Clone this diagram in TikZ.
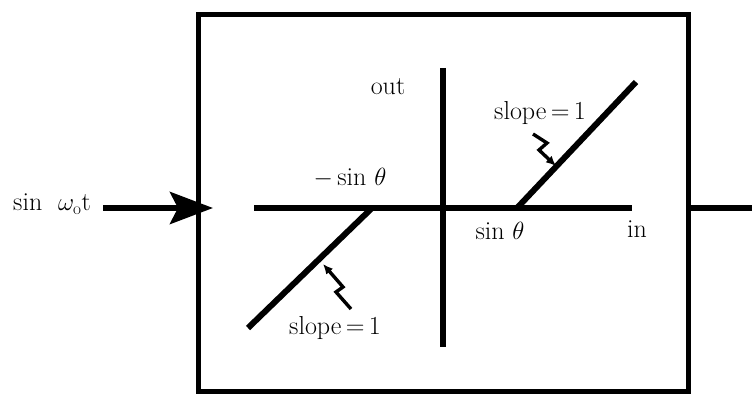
\documentclass[tikz,border=0pt]{standalone}
\usetikzlibrary{arrows.meta}
\begin{document}
\begin{tikzpicture}[x=1pt,y=-1pt,
  lbl/.style={inner sep=0pt, font=\fontsize{26}{30}\selectfont},
  thick line/.style={line width=6pt},
  zig/.style={line width=3.4pt, line join=miter, -{Latex[length=10pt,width=9pt]}}]
\useasboundingbox (0,0) rectangle (752,396);
% box
\node[draw, line width=5pt, minimum width=490pt, minimum height=376pt, inner sep=0pt] (box) at (443,203) {};
% axes
\coordinate (hL) at (254,208);
\coordinate (hR) at (632,208);
\coordinate (vT) at (443,68);
\coordinate (vB) at (443,347);
\draw[thick line] (hL) -- (hR);
\draw[thick line] (vT) -- (vB);
% slope lines
\coordinate (nK) at (372,208);
\coordinate (nE) at (248,328);
\coordinate (pK) at (517,208);
\coordinate (pE) at (636,82);
\draw[thick line] (nK) -- (nE);
\draw[thick line] (pK) -- (pE);
% input arrow
\coordinate (inS) at (103,208);
\coordinate (inE) at (213,208);
\draw[line width=6pt, -{Stealth[length=43pt,width=32pt,inset=8pt]}] (inS) -- (inE);
% output line
\coordinate (outS) at (688,208);
\coordinate (outE) at (752,208);
\draw[thick line] (outS) -- (outE);
% labels
\node[lbl] (lin) at (52,204) {sin\ \ $\omega_{\mathrm{o}}$t};
\node[lbl] (lout) at (388,87) {out};
\node[lbl] (lms) at (350,178) {$-$\,sin\ $\theta$};
\node[lbl] (lps) at (500,231) {sin\ $\theta$};
\node[lbl] (lx) at (637,229) {in};
\node[lbl] (ls1) at (540,113) {slope\,=\,1};
\node[lbl] (ls2) at (335,328) {slope\,=\,1};
% zigzag pointers
\coordinate (z1a) at (533,134);
\coordinate (z1b) at (547,143);
\coordinate (z1c) at (539,150);
\coordinate (z1d) at (556,166);
\draw[zig] (z1a) -- (z1b) -- (z1c) -- (z1d);
\coordinate (z2a) at (351,309);
\coordinate (z2b) at (336,292);
\coordinate (z2c) at (343,287);
\coordinate (z2d) at (323,264);
\draw[zig] (z2a) -- (z2b) -- (z2c) -- (z2d);
\end{tikzpicture}
\end{document}
